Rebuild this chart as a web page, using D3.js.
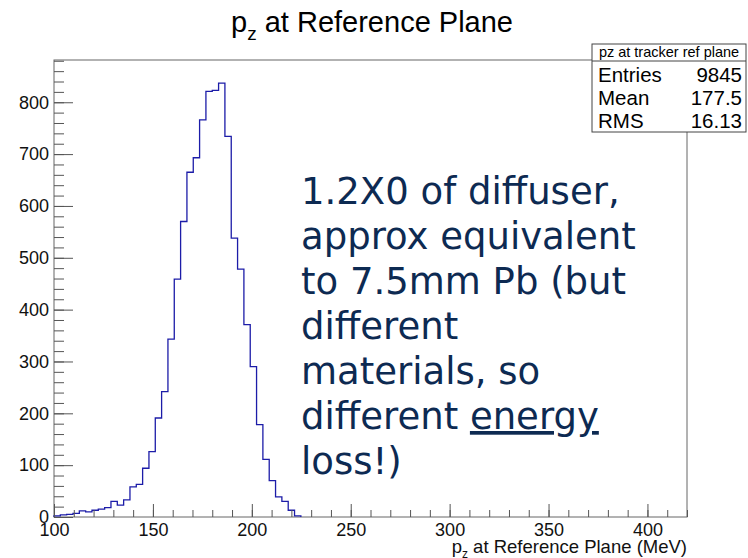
<!DOCTYPE html>
<html lang="en">
<head>
	<meta charset="utf-8">
	<title>pz at Reference Plane</title>
	<script src="https://cdn.jsdelivr.net/npm/d3@7/dist/d3.min.js"></script>
	<style>
		body {
		    margin: 0;
		    background: #fff;
		    font-family: "Liberation Sans", Arial, sans-serif;
		}
		.frame {
		    fill: none;
		    stroke: #666;
		}
		.axis path, .axis line {
		    stroke: #555;
		}
		.axis text {
		    font-family: "Liberation Sans", Arial, sans-serif;
		    font-size: 18px;
		    fill: #111;
		}
		.note {
		    font-family: "DejaVu Sans", sans-serif;
		    font-size: 37px;
		    fill: #0d2a52;
		}
	</style>
</head>
<body>
	<script>
		// histogram: 100 bins of 3.2 MeV from 100 to 420 (empty bins after 38 left out)
		var xMin = 100;
		var xMax = 420;
		var binWidth = 3.2;
		var counts = [2, 4, 5, 7, 12, 10, 13, 15, 18, 30,
		              23, 33, 58, 63, 94, 126, 191, 242, 343, 459,
		              570, 665, 693, 766, 821, 823, 837, 734, 538, 478,
		              371, 290, 178, 111, 70, 39, 30, 13, 2];

		var yTicks = [0, 100, 200, 300, 400, 500, 600, 700, 800];
		var xTicks = [100, 150, 200, 250, 300, 350, 400];

		var statsTitle = "pz at tracker ref plane";
		var statsNames = ["Entries", "Mean", "RMS"];
		var statsValues = ["9845", "177.5", "16.13"];

		var noteLines = ["1.2X0 of diffuser,", "approx equivalent", "to 7.5mm Pb (but",
		                 "different", "materials, so", "different ", "loss!)"];

		var width = 748;
		var height = 558;
		// plot frame edges (pixels)
		var padL = 54, padR = 687, padT = 60, padB = 517;

		var svg = d3.select("body")
		    .append("svg")
		    .attr("width", width)
		    .attr("height", height);

		var x = d3.scaleLinear()
		    .domain([xMin, xMax])
		    .range([padL, padR]);

		var y = d3.scaleLinear()
		    .domain([0, 881.5])
		    .range([padB, padT]);

		// frame
		svg.append("rect")
		    .attr("class", "frame")
		    .attr("x", padL)
		    .attr("y", padT)
		    .attr("width", padR - padL)
		    .attr("height", padB - padT);

		// step outline of the histogram
		var pts = [[xMin, 0]];
		counts.forEach(function(c, i) {
			pts.push([xMin + i * binWidth, c]);
			pts.push([xMin + (i + 1) * binWidth, c]);
		});
		pts.push([xMin + counts.length * binWidth, 0]);

		var line = d3.line()
		    .x(function(d) { return x(d[0]); })
		    .y(function(d) { return y(d[1]); });

		svg.append("path")
		    .datum(pts)
		    .attr("fill", "none")
		    .attr("stroke", "#1c1ca8")
		    .attr("stroke-width", 1.3)
		    .attr("d", line);

		// y axis, ticks pointing into the frame
		svg.append("g")
		    .attr("class", "axis")
		    .attr("transform", "translate(" + padL + ",0)")
		    .call(d3.axisLeft(y).tickValues(d3.range(0, 881, 20)).tickSize(-10).tickFormat(""))
		    .call(function(g) { g.select(".domain").remove(); });

		svg.append("g")
		    .attr("class", "axis")
		    .attr("transform", "translate(" + padL + ",0)")
		    .call(d3.axisLeft(y).tickValues(yTicks).tickSizeInner(-19).tickSizeOuter(0).tickPadding(5))
		    .call(function(g) { g.select(".domain").remove(); });

		// x axis
		svg.append("g")
		    .attr("class", "axis")
		    .attr("transform", "translate(0," + padB + ")")
		    .call(d3.axisBottom(x).tickValues(d3.range(100, 421, 10)).tickSize(-7).tickFormat(""))
		    .call(function(g) { g.select(".domain").remove(); });

		svg.append("g")
		    .attr("class", "axis")
		    .attr("transform", "translate(0," + padB + ")")
		    .call(d3.axisBottom(x).tickValues(xTicks).tickSizeInner(-13).tickSizeOuter(0).tickPadding(6))
		    .call(function(g) { g.select(".domain").remove(); });

		// title
		var title = svg.append("text")
		    .attr("x", 372)
		    .attr("y", 32)
		    .attr("text-anchor", "middle")
		    .style("font-size", "29px")
		    .style("fill", "#000");
		title.append("tspan").text("p");
		title.append("tspan").attr("dy", 8).style("font-size", "19px").text("z");
		title.append("tspan").attr("dy", -8).text(" at Reference Plane");

		// x axis title
		var xt = svg.append("text")
		    .attr("x", padR)
		    .attr("y", 553)
		    .attr("text-anchor", "end")
		    .style("font-size", "18.5px")
		    .style("fill", "#111");
		xt.append("tspan").text("p");
		xt.append("tspan").attr("dy", 5).style("font-size", "12px").text("z");
		xt.append("tspan").attr("dy", -5).text(" at Reference Plane (MeV)");

		// stats box
		var sb = svg.append("g");
		sb.append("rect")
		    .attr("x", 592).attr("y", 44)
		    .attr("width", 154).attr("height", 88)
		    .attr("fill", "#fff")
		    .attr("stroke", "#444");
		sb.append("line")
		    .attr("x1", 592).attr("x2", 746)
		    .attr("y1", 61).attr("y2", 61)
		    .attr("stroke", "#444");
		sb.append("text")
		    .attr("x", 669).attr("y", 57)
		    .attr("text-anchor", "middle")
		    .style("font-size", "14.5px")
		    .text(statsTitle);
		statsNames.forEach(function(n, i) {
			sb.append("text")
			    .attr("x", 598).attr("y", 82 + i * 23)
			    .style("font-size", "20.5px")
			    .text(n);
			sb.append("text")
			    .attr("x", 742).attr("y", 82 + i * 23)
			    .attr("text-anchor", "end")
			    .style("font-size", "20.5px")
			    .text(statsValues[i]);
		});

		// annotation
		var note = svg.append("text")
		    .attr("class", "note")
		    .attr("x", 301)
		    .attr("y", 204);
		noteLines.forEach(function(t, i) {
			note.append("tspan")
			    .attr("x", 301)
			    .attr("y", 204 + i * 45)
			    .text(t);
			if (i == 5) {
				note.append("tspan")
				    .attr("text-decoration", "underline")
				    .text("energy");
			}
		});
	</script>
</body>
</html>
